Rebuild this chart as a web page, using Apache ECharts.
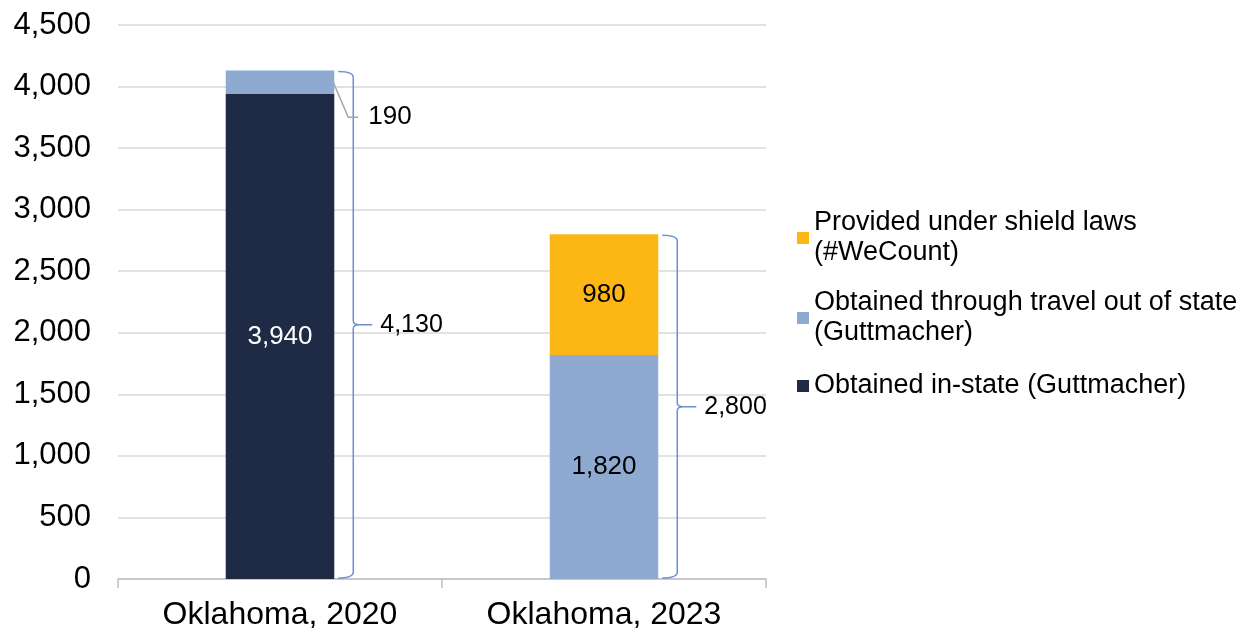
<!DOCTYPE html>
<html>
<head>
<meta charset="utf-8">
<script src="https://cdn.jsdelivr.net/npm/echarts@6/dist/echarts.min.js"></script>
<style>
html,body{margin:0;padding:0;background:#fff;}
#chart{width:1246px;height:634px;}
</style>
</head>
<body>
<div id="chart"></div>
<script>
const categories = ['Oklahoma, 2020', 'Oklahoma, 2023'];
const inState = [3940, 0];
const travelOut = [190, 1820];
const shieldLaws = [0, 980];
const yTicks = [0, 500, 1000, 1500, 2000, 2500, 3000, 3500, 4000, 4500];
const seriesNames = [
  'Obtained in-state (Guttmacher)',
  'Obtained through travel out of state\n(Guttmacher)',
  'Provided under shield laws\n(#WeCount)'
];

const FONT = "'Liberation Sans', Arial, sans-serif";
const COLORS = ['#1f2a44', '#8eaad0', '#fdb714'];
const BAR_FRAC = 0.335;
const fmt = v => Number(v).toLocaleString('en-US');

const totals = categories.map((c, i) => inState[i] + travelOut[i] + shieldLaws[i]);

function barData(arr, hideIdx) {
  return arr.map((v, i) => {
    if (v === 0) return null;
    if (hideIdx && hideIdx.indexOf(i) >= 0) return { value: v, label: { show: false } };
    return v;
  });
}

function bracketItem(params, api) {
  const c = api.value(0), lo = api.value(1), hi = api.value(2);
  const pLo = api.coord([c, lo]), pHi = api.coord([c, hi]);
  const band = api.size([1, 0])[0];
  const half = band * BAR_FRAC / 2;
  const xL = pLo[0] + half + 4, xV = pLo[0] + half + 19;
  const yT = pHi[1] + 1, yB = pLo[1] - 1, yM = (yT + yB) / 2;
  const r = 6, nub = 19;
  const d = 'M' + xL + ',' + yT + ' Q' + xV + ',' + yT + ' ' + xV + ',' + (yT + r) +
    ' L' + xV + ',' + (yM - 4) + ' Q' + xV + ',' + yM + ' ' + (xV + 6) + ',' + yM +
    ' L' + (xV + nub) + ',' + yM +
    ' M' + (xV + 6) + ',' + yM + ' Q' + xV + ',' + yM + ' ' + xV + ',' + (yM + 4) +
    ' L' + xV + ',' + (yB - r) + ' Q' + xV + ',' + yB + ' ' + xL + ',' + yB;
  return {
    type: 'group',
    children: [
      { type: 'path', shape: { pathData: d }, style: { fill: 'none', stroke: '#6a8fd6', lineWidth: 1.5 } },
      { type: 'text', x: xV + 27, y: yM, style: { text: fmt(hi - lo), font: '25px ' + FONT, fill: '#000', verticalAlign: 'middle', align: 'left' } }
    ]
  };
}

function leaderItem(params, api) {
  const c = api.value(0), lo = api.value(1), hi = api.value(2);
  const pMid = api.coord([c, (lo + hi) / 2]);
  const band = api.size([1, 0])[0];
  const half = band * BAR_FRAC / 2;
  const x0 = pMid[0] + half - 1, y0 = pMid[1];
  const x1 = x0 + 15, y1 = y0 + 35, x2 = x1 + 10;
  return {
    type: 'group',
    children: [
      { type: 'polyline', shape: { points: [[x0, y0], [x1, y1], [x2, y1]] }, style: { fill: 'none', stroke: '#a6a6a6', lineWidth: 1.5 } },
      { type: 'text', x: x2 + 10, y: y1, style: { text: fmt(hi - lo), font: '26px ' + FONT, fill: '#000', verticalAlign: 'middle', align: 'left' } }
    ]
  };
}

const chart = echarts.init(document.getElementById('chart'), null, { renderer: 'canvas' });

const labelBase = { show: true, position: 'inside', fontSize: 26, fontFamily: FONT, formatter: p => fmt(p.value) };

function legendFor(name, top, twoLine) {
  return {
    show: true,
    orient: 'vertical',
    left: 797,
    top: top,
    padding: 0,
    itemWidth: 12,
    itemHeight: 12,
    icon: 'rect',
    data: [{ name: name, textStyle: twoLine ? { padding: [30, 0, 0, 0] } : {} }],
    textStyle: { fontSize: 27, fontFamily: FONT, color: '#000', lineHeight: 30 },
    selectedMode: false
  };
}

chart.setOption({
  animation: false,
  backgroundColor: '#fff',
  grid: { left: 118, right: 480, top: 25, bottom: 55, containLabel: false },
  legend: [
    legendFor(seriesNames[2], 193, true),
    legendFor(seriesNames[1], 273, true),
    legendFor(seriesNames[0], 371, false)
  ],
  xAxis: {
    type: 'category',
    data: categories,
    axisLine: { show: true, lineStyle: { color: '#bfbfbf', width: 1.5 } },
    axisTick: { show: true, alignWithLabel: false, length: 9, lineStyle: { color: '#bfbfbf', width: 1.5 } },
    axisLabel: { fontSize: 32, fontFamily: FONT, color: '#000', margin: 20 }
  },
  yAxis: {
    type: 'value',
    min: yTicks[0],
    max: yTicks[yTicks.length - 1],
    interval: yTicks[1] - yTicks[0],
    axisLine: { show: false },
    axisTick: { show: false },
    splitLine: { show: true, lineStyle: { color: '#d9d9d9', width: 1.5 } },
    axisLabel: { fontSize: 31, fontFamily: FONT, color: '#000', margin: 27, formatter: v => fmt(v) }
  },
  series: [
    {
      name: seriesNames[0], type: 'bar', stack: 'total', barWidth: (BAR_FRAC * 100) + '%',
      itemStyle: { color: COLORS[0] },
      label: Object.assign({}, labelBase, { color: '#fff' }),
      data: barData(inState)
    },
    {
      name: seriesNames[1], type: 'bar', stack: 'total', barWidth: (BAR_FRAC * 100) + '%',
      itemStyle: { color: COLORS[1] },
      label: Object.assign({}, labelBase, { color: '#000' }),
      data: barData(travelOut, [0])
    },
    {
      name: seriesNames[2], type: 'bar', stack: 'total', barWidth: (BAR_FRAC * 100) + '%',
      itemStyle: { color: COLORS[2] },
      label: Object.assign({}, labelBase, { color: '#000' }),
      data: barData(shieldLaws)
    },
    {
      type: 'custom', name: 'brackets', silent: true, z: 5,
      renderItem: bracketItem,
      data: categories.map((c, i) => [i, 0, totals[i]])
    },
    {
      type: 'custom', name: 'leader', silent: true, z: 5,
      renderItem: leaderItem,
      data: [[0, inState[0], inState[0] + travelOut[0]]]
    }
  ]
});
</script>
</body>
</html>
